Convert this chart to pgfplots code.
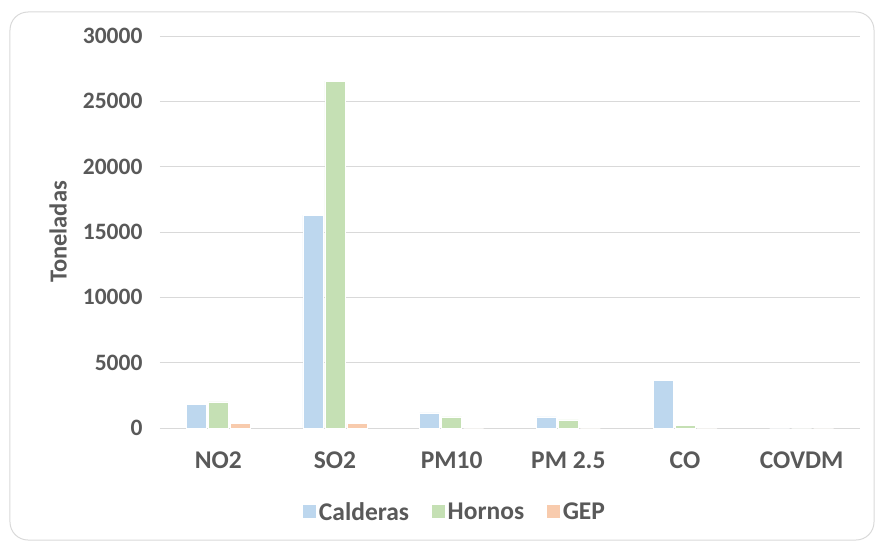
\documentclass[border=0pt]{standalone}
\usepackage{pgfplots}
\pgfplotsset{compat=1.18}
\usepackage{fontspec}
\setmainfont{Carlito}
\definecolor{cal}{HTML}{BDD7EE}
\definecolor{hor}{HTML}{C5E0B4}
\definecolor{gep}{HTML}{F8CBAD}
\definecolor{txt}{HTML}{595959}
\definecolor{gridc}{HTML}{D9D9D9}
\begin{document}
\begin{tikzpicture}[x=1pt,y=1pt]
\useasboundingbox (-160,-114) rectangle (715,428);
\draw[gridc, line width=1pt, rounded corners=18pt] (-150,-112) rectangle (714,416);
\begin{axis}[
  at={(0,0)}, anchor=south west,
  scale only axis, width=700pt, height=392pt,
  ymin=0, ymax=30000, ytick={0,5000,...,30000},
  xmin=-0.5, xmax=5.5, xtick=data,
  xticklabels={NO2,SO2,PM10,PM 2.5,CO,COVDM},
  ybar, bar width=20pt,
  axis line style={draw=none},
  axis x line*=bottom,
  x axis line style={draw=gridc, line width=1pt},
  ymajorgrids, xmajorgrids=false, grid style={draw=gridc, line width=1pt},
  major tick length=0pt,
  tick label style={font=\fontsize{23.5}{28}\selectfont\bfseries, text=txt},
  /pgf/number format/assume math mode=true,
  scaled y ticks=false,
  yticklabel style={/pgf/number format/fixed, /pgf/number format/1000 sep={}, xshift=-14pt},
  xticklabel style={yshift=-20pt, font=\fontsize{25.5}{30}\selectfont\bfseries},
  ylabel={Toneladas},
  every axis y label/.style={at={(-102pt,196pt)}, rotate=90, anchor=center,
    font=\fontsize{24.5}{29}\selectfont\bfseries, text=txt},
  legend style={at={(0.421,-0.214)}, anchor=center, draw=none, legend columns=3,
    font=\fontsize{25.5}{30}\selectfont\bfseries, text=txt,
    /tikz/every even column/.append style={column sep=20pt}},
  legend image code/.code={\fill[#1] (1pt,-6.5pt) rectangle (15pt,7.5pt);},
]
\addplot[fill=cal, draw=white, line width=0.6pt] coordinates {(0,1800) (1,16300) (2,1150) (3,850) (4,3650) (5,0)};
\addplot[fill=hor, draw=white, line width=0.6pt] coordinates {(0,2000) (1,26550) (2,850) (3,620) (4,200) (5,0)};
\addplot[fill=gep, draw=white, line width=0.6pt] coordinates {(0,350) (1,330) (2,0) (3,0) (4,0) (5,0)};
\legend{Calderas,Hornos,GEP}
\end{axis}
\end{tikzpicture}
\end{document}
